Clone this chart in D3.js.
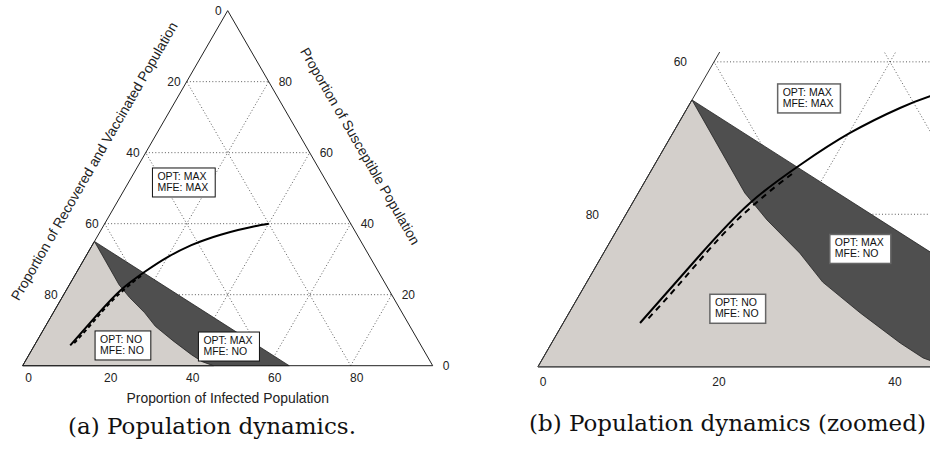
<!DOCTYPE html>
<html>
<head>
<meta charset="utf-8">
<script src="https://cdn.jsdelivr.net/npm/d3@7"></script>
<style>
  body { margin: 0; background: #fff; }
  svg { display: block; }
</style>
</head>
<body>
<div id="chart"></div>
<script>
// points are (infected, susceptible); recovered+vaccinated = 100 - both
const tickValues = [0, 20, 40, 60, 80];
const gridValues = [20, 40, 60, 80];

// optimal trajectory (solid)
const trajInfected    = [40, 36.96, 33.41, 29.85, 26.81, 24.16, 20.12, 16.54, 13.35, 11.08, 8.73];
const trajSusceptible = [40, 39.3, 38.2, 36.87, 35.49, 33.95, 30.67, 26.47, 21.48, 14.66, 5.73];

// mean field equilibrium trajectory (dashed)
const mfeInfected    = [16.21, 15.14, 14.03, 12.8, 11.64, 10.51, 9.32];
const mfeSusceptible = [25.29, 23.58, 21.48, 18.73, 14.9, 10.33, 6.13];

// boundary of the OPT: MAX region
const optEdgeInfected    = [0, 65];
const optEdgeSusceptible = [35, 0];

// boundary of the OPT: NO / MFE: NO region
const noEdgeInfected    = [0, 12.1, 16.4, 22.3, 26.8, 33.1, 39.6, 43.2, 46.5];
const noEdgeSusceptible = [35, 22.8, 19.25, 14.9, 11.1, 7.05, 3.11, 1.14, 0];

const boxOpt = ["OPT: MAX", "OPT: NO", "OPT: MAX"];
const boxMfe = ["MFE: MAX", "MFE: NO", "MFE: NO"];
const boxPosA = [[13.5, 51.6], [21.6, 5.7], [47.6, 5.4]];
const boxPosB = [[13.2, 35.2], [18.9, 7.6], [28.9, 15.45]];

const W = 930, H = 457;
const svg = d3.select("#chart").append("svg").attr("width", W).attr("height", H);

svg.append("defs").append("clipPath").attr("id", "clipB")
  .append("rect").attr("x", 0).attr("y", 52).attr("width", W).attr("height", 340);

const zip = (a, b) => a.map((v, i) => [v, b[i]]);
const sans = "Liberation Sans, Arial, sans-serif";

function panel(cfg) {
  const x = d3.scaleLinear().domain([0, 100]).range([cfg.x0, cfg.x0 + cfg.w]);
  const y = d3.scaleLinear().domain([0, 100]).range([cfg.y0, cfg.y0 - cfg.w * Math.sqrt(3) / 2]);
  const px = d => [x(d[0] + d[1] / 2), y(d[1])];
  const visible = p => p[0] >= 0 && p[0] <= W && p[1] >= cfg.top;

  const g = svg.append("g");
  const plot = g.append("g").attr("clip-path", cfg.clip ? "url(#" + cfg.clip + ")" : null);

  // dotted grid
  const segs = [];
  gridValues.forEach(v => {
    segs.push([[0, v], [100 - v, v]]);
    segs.push([[v, 0], [v, 100 - v]]);
    segs.push([[100 - v, 0], [0, 100 - v]]);
  });
  plot.append("g").selectAll("line").data(segs).join("line")
    .attr("x1", d => px(d[0])[0]).attr("y1", d => px(d[0])[1])
    .attr("x2", d => px(d[1])[0]).attr("y2", d => px(d[1])[1])
    .attr("stroke", "#333").attr("stroke-width", 0.8)
    .attr("stroke-dasharray", "1,2.2");

  const line = d3.line().x(d => px(d)[0]).y(d => px(d)[1]);

  // regions
  const dark = [[0, 0]].concat(zip(optEdgeInfected, optEdgeSusceptible));
  const light = [[0, 0]].concat(zip(noEdgeInfected, noEdgeSusceptible));
  plot.append("path").attr("d", line(dark) + "Z")
    .attr("fill", "#4f4f4f").attr("stroke", "#222").attr("stroke-width", 0.8);
  plot.append("path").attr("d", line(light) + "Z")
    .attr("fill", "#d3cfcb").attr("stroke", "#222").attr("stroke-width", 0.8);

  // triangle edges
  if (cfg.clip) {
    plot.append("path").attr("d", line([[0, 0], [0, 100]]))
      .attr("fill", "none").attr("stroke", "#333").attr("stroke-width", 1);
    plot.append("path").attr("d", line([[0, 0], [100, 0]]))
      .attr("fill", "none").attr("stroke", "#555").attr("stroke-width", 1.6);
  } else {
    plot.append("path").attr("d", line([[0, 0], [0, 100], [100, 0]]) + "Z")
      .attr("fill", "none").attr("stroke", "#222").attr("stroke-width", 1);
  }

  // trajectories
  const smooth = d3.line().x(d => px(d)[0]).y(d => px(d)[1]).curve(d3.curveNatural);
  plot.append("path").attr("d", smooth(zip(mfeInfected, mfeSusceptible)))
    .attr("fill", "none").attr("stroke", "#000").attr("stroke-width", 2)
    .attr("stroke-dasharray", cfg.dash);
  plot.append("path").attr("d", smooth(zip(trajInfected, trajSusceptible)))
    .attr("fill", "none").attr("stroke", "#000").attr("stroke-width", 2);

  // region labels
  cfg.boxes.forEach((p, i) => {
    const c = px(p);
    const bg = plot.append("g");
    const rect = bg.append("rect");
    const t = bg.append("text").style("font-family", sans)
      .style("font-size", "10.5px").attr("fill", "#111");
    const l1 = t.append("tspan").text(boxOpt[i]);
    const l2 = t.append("tspan").text(boxMfe[i]);
    const tw = Math.max(l1.node().getComputedTextLength(), l2.node().getComputedTextLength());
    const bw = tw + 12, bh = 29;
    const left = c[0] - bw / 2, top = c[1] - bh / 2;
    rect.attr("x", left).attr("y", top).attr("width", bw).attr("height", bh)
      .attr("fill", "#fff").attr("stroke", cfg.boxStroke).attr("stroke-width", cfg.boxStrokeWidth);
    l1.attr("x", left + 5).attr("y", top + 12);
    l2.attr("x", left + 5).attr("y", top + 23);
  });

  // tick labels
  const tickStyle = s => s.style("font-family", sans).style("font-size", "12px").attr("fill", "#222");
  const bottomTicks = tickValues.map(v => ({ v, p: px([v, 0]) })).filter(d => visible(d.p));
  const leftTicks = tickValues.map(v => ({ v, p: px([0, 100 - v]) })).filter(d => visible(d.p));
  const rightTicks = tickValues.map(v => ({ v, p: px([100 - v, v]) })).filter(d => visible(d.p));
  g.append("g").selectAll("text").data(bottomTicks).join("text")
    .attr("x", d => d.p[0] + cfg.bottomDx).attr("y", d => d.p[1] + cfg.bottomDy)
    .attr("text-anchor", "middle").text(d => d.v).call(tickStyle);
  g.append("g").selectAll("text").data(leftTicks).join("text")
    .attr("x", d => d.p[0] - cfg.leftGap).attr("y", d => d.p[1] + 4.5)
    .attr("text-anchor", "end").text(d => d.v).call(tickStyle);
  g.append("g").selectAll("text").data(rightTicks).join("text")
    .attr("x", d => d.p[0] + cfg.rightGap).attr("y", d => d.p[1] + 4.5)
    .attr("text-anchor", "start").text(d => d.v).call(tickStyle);

  if (cfg.titles) {
    const titleStyle = s => s.style("font-family", sans)
      .style("font-size", "13.9px").attr("fill", "#222").attr("text-anchor", "middle");
    const b = px([50, 0]);
    g.append("text").attr("x", b[0]).attr("y", b[1] + 37).text("Proportion of Infected Population").call(titleStyle);
    const lm = px([0, 50]);
    g.append("text").attr("transform", `translate(${lm[0] - 31},${lm[1] - 27}) rotate(-60)`)
      .attr("dy", "0.35em").text("Proportion of Recovered and Vaccinated Population").call(titleStyle);
    const rm = px([50, 50]);
    g.append("text").attr("transform", `translate(${rm[0] + 30},${rm[1] - 42}) rotate(60)`)
      .attr("dy", "0.35em").text("Proportion of Susceptible Population").call(titleStyle);
  }
}

panel({ x0: 22.7, y0: 365.7, w: 410, clip: null, top: 0, dash: "4,3",
  boxes: boxPosA, boxStroke: "#111", boxStrokeWidth: 1,
  bottomDx: 6, bottomDy: 16, leftGap: 6, rightGap: 10, titles: true });

panel({ x0: 538, y0: 366.7, w: 880, clip: "clipB", top: 52, dash: "6,5",
  boxes: boxPosB, boxStroke: "#666", boxStrokeWidth: 1.5,
  bottomDx: 5, bottomDy: 19, leftGap: 27, rightGap: 10, titles: false });

const capStyle = s => s.style("font-family", "DejaVu Serif, serif").style("font-size", "23px").attr("fill", "#111");
svg.append("text").attr("x", 212).attr("y", 434).attr("text-anchor", "middle")
  .text("(a) Population dynamics.").call(capStyle);
svg.append("text").attr("x", 529).attr("y", 431).attr("text-anchor", "start")
  .text("(b) Population dynamics (zoomed)").call(capStyle);
</script>
</body>
</html>
